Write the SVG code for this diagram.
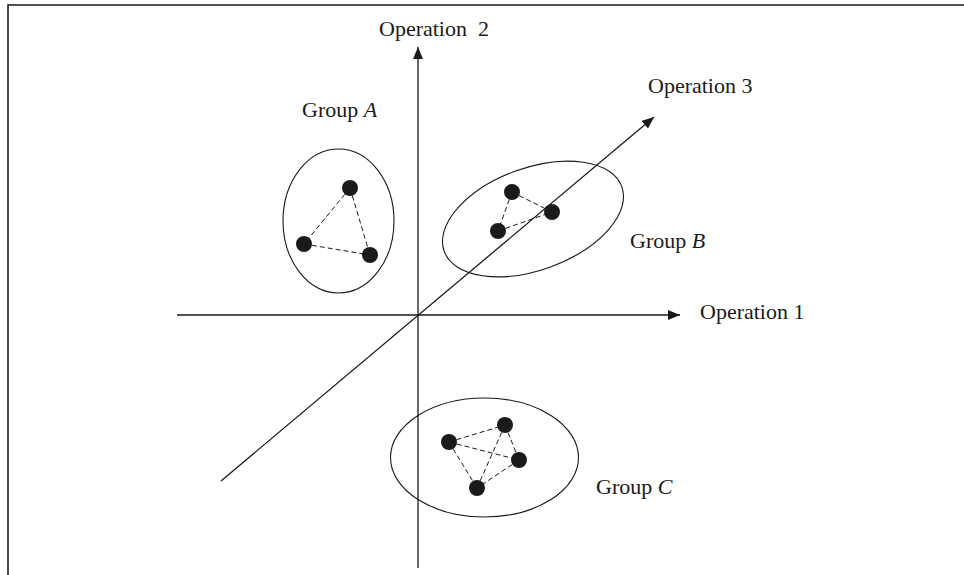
<svg xmlns="http://www.w3.org/2000/svg" width="964" height="575" viewBox="0 0 964 575">
<defs>
<marker id="arr" markerWidth="12" markerHeight="10" refX="12" refY="5" orient="auto" markerUnits="userSpaceOnUse">
<path d="M0,0 L12,5 L0,10 Z" fill="#1a1a1a"/>
</marker>
</defs>
<style>
.ax{stroke:#1a1a1a;stroke-width:1.3;fill:none}
.el{stroke:#1a1a1a;stroke-width:1.1;fill:none}
.ds{stroke:#1a1a1a;stroke-width:1;stroke-dasharray:5,3;fill:none}
.dot{fill:#1a1a1a}
.t{font-family:"Liberation Serif","Times New Roman",serif;font-size:22px;fill:#1a1a1a}
</style>
<rect width="964" height="575" fill="#fff"/>
<path d="M8,575 L8,5 L964,5" stroke="#1a1a1a" stroke-width="1.6" fill="none"/>
<g id="connectors">
<line class="ax" x1="177" y1="315" x2="680" y2="315" marker-end="url(#arr)"/>
<line class="ax" x1="418" y1="568" x2="418" y2="47" marker-end="url(#arr)"/>
<line class="ax" x1="221" y1="481" x2="654" y2="117" marker-end="url(#arr)"/>
</g>
<g id="axis-labels">
<text class="t" x="379" y="36">Operation&#160; 2</text>
<text class="t" x="648" y="93">Operation 3</text>
<text class="t" x="700" y="319">Operation 1</text>
</g>
<g id="groupA">
<ellipse class="el" cx="338.5" cy="221" rx="55.5" ry="72"/>
<line class="ds" x1="350" y1="188" x2="304" y2="244"/>
<line class="ds" x1="350" y1="188" x2="370" y2="255"/>
<line class="ds" x1="304" y1="244" x2="370" y2="255"/>
<circle class="dot" cx="350" cy="188" r="8"/>
<circle class="dot" cx="304" cy="244" r="8"/>
<circle class="dot" cx="370" cy="255" r="8"/>
<text class="t" x="302" y="117">Group <tspan font-style="italic">A</tspan></text>
</g>
<g id="groupB">
<ellipse class="el" cx="533" cy="219" rx="94.5" ry="51" transform="rotate(-20 533 219)"/>
<line class="ds" x1="512" y1="192" x2="552" y2="212"/>
<line class="ds" x1="512" y1="192" x2="498" y2="231"/>
<line class="ds" x1="498" y1="231" x2="552" y2="212"/>
<circle class="dot" cx="512" cy="192" r="8"/>
<circle class="dot" cx="552" cy="212" r="8"/>
<circle class="dot" cx="498" cy="231" r="8"/>
<text class="t" x="630" y="248">Group <tspan font-style="italic">B</tspan></text>
</g>
<g id="groupC">
<ellipse class="el" cx="484.5" cy="457.5" rx="94" ry="59.5"/>
<line class="ds" x1="449" y1="442" x2="505" y2="425"/>
<line class="ds" x1="449" y1="442" x2="519" y2="460"/>
<line class="ds" x1="449" y1="442" x2="477" y2="488"/>
<line class="ds" x1="505" y1="425" x2="519" y2="460"/>
<line class="ds" x1="505" y1="425" x2="477" y2="488"/>
<line class="ds" x1="519" y1="460" x2="477" y2="488"/>
<circle class="dot" cx="449" cy="442" r="8"/>
<circle class="dot" cx="505" cy="425" r="8"/>
<circle class="dot" cx="519" cy="460" r="8"/>
<circle class="dot" cx="477" cy="488" r="8"/>
<text class="t" x="596" y="494">Group <tspan font-style="italic">C</tspan></text>
</g>
</svg>
